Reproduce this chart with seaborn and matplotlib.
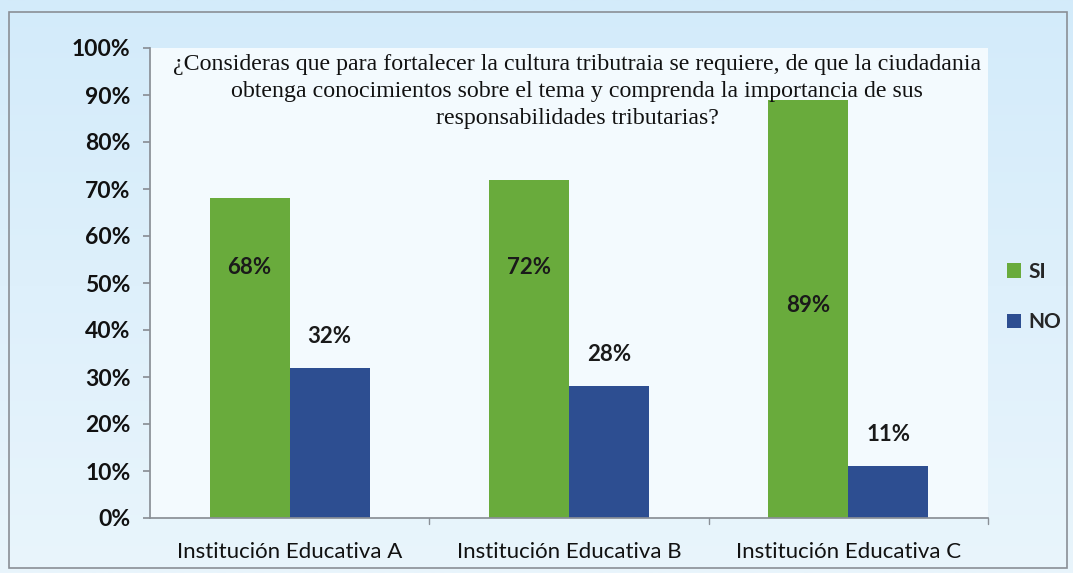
import matplotlib
matplotlib.use("Agg")
import matplotlib.pyplot as plt
import seaborn as sns
import pandas as pd
import numpy as np
from matplotlib.patches import Rectangle
from matplotlib.colors import LinearSegmentedColormap

categories = ["Institución Educativa A", "Institución Educativa B", "Institución Educativa C"]
series_names = ["SI", "NO"]
si_values = [68, 72, 89]
no_values = [32, 28, 11]
y_ticks = [0, 10, 20, 30, 40, 50, 60, 70, 80, 90, 100]
title = ("¿Consideras que para fortalecer la cultura tributraia se requiere, de que la ciudadania\n"
         "obtenga conocimientos sobre el tema y comprenda la importancia de sus\n"
         "responsabilidades tributarias?")

df = pd.DataFrame({
    "cat": categories * 2,
    "serie": [series_names[0]] * 3 + [series_names[1]] * 3,
    "val": si_values + no_values,
})

sns.set_theme(style="white")
plt.rcParams['font.family'] = ['Lato', 'DejaVu Sans']

fig = plt.figure(figsize=(10.73, 5.73), dpi=100)
fig.patch.set_facecolor("#dff1fc")

# outer frame with gradient
bg = fig.add_axes([0, 0, 1, 1], zorder=-10)
grad = np.linspace(0, 1, 256).reshape(-1, 1)
cmap = LinearSegmentedColormap.from_list("bg", ["#d3ebfa", "#e9f5fc"])
bg.imshow(grad, aspect="auto", cmap=cmap, extent=[0, 1, 0, 1], origin="upper")
bg.add_patch(Rectangle((9/1073, 1 - 568/573), 1058/1073, 556/573, fill=False,
                       edgecolor="#8a8f96", linewidth=1.2))
bg.set_xlim(0, 1); bg.set_ylim(0, 1)
bg.axis("off")

ax = fig.add_axes([150/1073, 1 - 518/573, (988 - 150)/1073, (518 - 48)/573])
ax.set_facecolor("#f3fafe")

palette = {"SI": "#69ab3c", "NO": "#2d4e91"}
sns.barplot(data=df, x="cat", y="val", hue="serie", palette=palette, ax=ax,
            width=0.573, saturation=1, legend=True, edgecolor="none")

ax.set_ylim(0, 100)
ax.set_xlim(-0.5, 2.5)
ax.set_yticks(y_ticks)
ax.set_yticklabels([f"{t}%" for t in y_ticks], fontsize=16.5, fontweight="bold", color="#111111")
ax.tick_params(axis="x", labelsize=16, colors="#111111", pad=17, length=0)
ax.tick_params(axis="y", pad=9, length=5, left=True, color="#8a8f96")
ax.set_xlabel("")
ax.set_ylabel("")
for s in ["top", "right"]:
    ax.spines[s].set_visible(False)
ax.spines["left"].set_color("#8a8f96")
ax.spines["bottom"].set_color("#8a8f96")
for xs in [0.5, 1.5, 2.5]:
    ax.plot([xs, xs], [0, -1.2], color="#8a8f96", lw=1, clip_on=False)

# data labels
si_bars = ax.containers[0]
no_bars = ax.containers[1]
si_label_y = [53.2, 53.2, 45.3]
for bar, v, ly in zip(si_bars, si_values, si_label_y):
    ax.text(bar.get_x() + bar.get_width() / 2, ly, f"{v}%", ha="center", va="center",
            fontsize=16, fontweight="bold", color="#1a1a1a", zorder=5)
for bar, v in zip(no_bars, no_values):
    ax.text(bar.get_x() + bar.get_width() / 2, v + 6.7, f"{v}%", ha="center", va="center",
            fontsize=16, fontweight="bold", color="#1a1a1a", zorder=5)

# title inside plot
ax.text(0.51, 0.987, title, transform=ax.transAxes, ha="center", va="top",
        fontsize=17.2, family=["Liberation Serif", "DejaVu Serif"], color="#111111",
        linespacing=1.36, zorder=6)

# legend
h, l = ax.get_legend_handles_labels()
leg = ax.legend(h, l, loc="center left", bbox_to_anchor=(1.0, 0.47), frameon=False,
                fontsize=15, handlelength=0.7, handleheight=0.7, labelspacing=1.45,
                handletextpad=0.35, borderaxespad=0.5)
for t in leg.get_texts():
    t.set_fontweight("bold")

fig.savefig("out.png", dpi=100, facecolor=fig.get_facecolor())
